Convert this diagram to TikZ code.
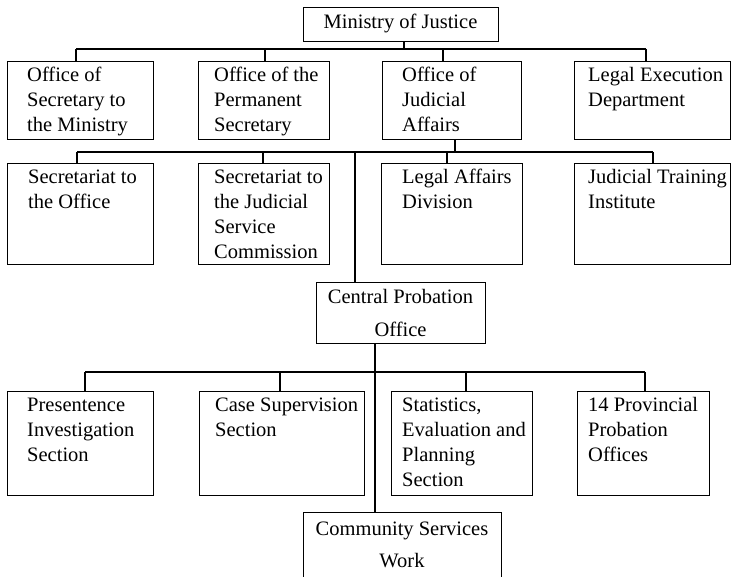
\documentclass[tikz,border=0pt]{standalone}
\usepackage{fontspec}
\setmainfont{Liberation Serif}
\tikzset{
  box/.style={draw, line width=1.2pt, inner sep=0pt, anchor=north west},
  lbl/.style={inner sep=0pt, anchor=north west, align=left, font=\fontsize{20.5}{25}\selectfont},
  clbl/.style={inner sep=0pt, anchor=north, align=center},
  conn/.style={line width=1.2pt},
}
\begin{document}
\begin{tikzpicture}[x=1pt, y=-1pt]
\useasboundingbox (0,0) rectangle (731,577);
\clip (0,0) rectangle (731,577);
% --- boxes ---
\node[box, minimum width=195pt, minimum height=34pt] (min) at (303,7) {};
\node[box, minimum width=146pt, minimum height=78pt] (b1) at (7,61) {};
\node[box, minimum width=131pt, minimum height=78pt] (b2) at (198,61) {};
\node[box, minimum width=139pt, minimum height=78pt] (b3) at (382,61) {};
\node[box, minimum width=156pt, minimum height=78pt] (b4) at (574,61) {};
\node[box, minimum width=146pt, minimum height=101pt] (c1) at (7,163) {};
\node[box, minimum width=131pt, minimum height=101pt] (c2) at (198,163) {};
\node[box, minimum width=141pt, minimum height=101pt] (c3) at (381,163) {};
\node[box, minimum width=156pt, minimum height=101pt] (c4) at (574,163) {};
\node[box, minimum width=169pt, minimum height=61pt] (cpo) at (316,282) {};
\node[box, minimum width=146pt, minimum height=104pt] (d1) at (7,391) {};
\node[box, minimum width=165pt, minimum height=104pt] (d2) at (199,391) {};
\node[box, minimum width=141pt, minimum height=104pt] (d3) at (391,391) {};
\node[box, minimum width=132pt, minimum height=104pt] (d4) at (577,391) {};
\node[box, minimum width=198pt, minimum height=90pt] (cs) at (303,512) {};
% --- texts ---
\node[clbl, font=\fontsize{20.5}{25}\selectfont] (mint) at (400.5,10.5) {\strut Ministry of Justice};
\node[lbl] (b1t) at (27,63.5) {\strut Office of\\Secretary to\\the Ministry};
\node[lbl] (b2t) at (214,63.5) {\strut Office of the\\Permanent\\Secretary};
\node[lbl] (b3t) at (402,63.5) {\strut Office of\\Judicial\\Affairs};
\node[lbl] (b4t) at (588,63.5) {\strut Legal Execution\\Department};
\node[lbl] (c1t) at (28,165.5) {\strut Secretariat to\\the Office};
\node[lbl] (c2t) at (214,165.5) {\strut Secretariat to\\the Judicial\\Service\\Commission};
\node[lbl] (c3t) at (402,165.5) {\strut Legal Affairs\\Division};
\node[lbl] (c4t) at (588,165.5) {\strut Judicial Training\\Institute};
\node[clbl, font=\fontsize{20.5}{33}\selectfont] (cpot) at (400.5,280) {\strut Central Probation\\Office};
\node[lbl] (d1t) at (27,393.5) {\strut Presentence\\Investigation\\Section};
\node[lbl] (d2t) at (215,393.5) {\strut Case Supervision\\Section};
\node[lbl] (d3t) at (402,393.5) {\strut Statistics,\\Evaluation and\\Planning\\Section};
\node[lbl] (d4t) at (588,393.5) {\strut 14 Provincial\\Probation\\Offices};
\node[clbl, font=\fontsize{20.5}{32}\selectfont] (cst) at (402,512.6) {\strut Community Services\\Work};
% --- junctions ---
\coordinate (j0) at (404,49);
\coordinate (h1a) at (76,49);  \coordinate (h1b) at (265,49);
\coordinate (h1c) at (443,49); \coordinate (h1d) at (646,49);
\coordinate (j1) at (455,152);
\coordinate (h2a) at (77,152);  \coordinate (h2b) at (263,152);
\coordinate (h2c) at (447,152); \coordinate (h2d) at (653,152);
\coordinate (j2) at (355,152);
\coordinate (j3) at (375,372);
\coordinate (h3a) at (85,372);  \coordinate (h3b) at (280,372);
\coordinate (h3c) at (466,372); \coordinate (h3d) at (645,372);
% --- connectors ---
\draw[conn] (min.south -| j0) -- (j0);
\draw[conn] (h1a) -- (h1d);
\draw[conn] (h1a) -- (h1a |- b1.north);
\draw[conn] (h1b) -- (h1b |- b2.north);
\draw[conn] (h1c) -- (h1c |- b3.north);
\draw[conn] (h1d) -- (h1d |- b4.north);
\draw[conn] (b3.south -| j1) -- (j1);
\draw[conn] (h2a) -- (h2d);
\draw[conn] (h2a) -- (h2a |- c1.north);
\draw[conn] (h2b) -- (h2b |- c2.north);
\draw[conn] (h2c) -- (h2c |- c3.north);
\draw[conn] (h2d) -- (h2d |- c4.north);
\draw[conn] (j2) -- (j2 |- cpo.north);
\draw[conn] (cpo.south -| j3) -- (j3 |- cs.north);
\draw[conn] (h3a) -- (h3d);
\draw[conn] (h3a) -- (h3a |- d1.north);
\draw[conn] (h3b) -- (h3b |- d2.north);
\draw[conn] (h3c) -- (h3c |- d3.north);
\draw[conn] (h3d) -- (h3d |- d4.north);
\end{tikzpicture}
\end{document}
